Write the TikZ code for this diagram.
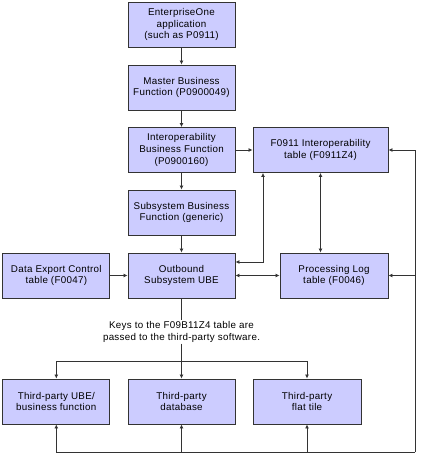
\documentclass[tikz,border=0pt]{standalone}
\usepackage{fontspec}
\setmainfont{Liberation Sans}[LetterSpace=3]
\usetikzlibrary{arrows.meta,calc}
\definecolor{boxfill}{RGB}{204,204,255}
\definecolor{linegray}{RGB}{51,51,51}
\tikzset{
  box/.style={draw=linegray, line width=0.9pt, fill=boxfill, minimum width=107pt, minimum height=45pt, inner sep=1pt, align=center, font=\fontsize{9.8}{11.7}\selectfont},
  wbox/.style={box, minimum width=108pt},
  xbox/.style={box, minimum width=135pt},
  conn/.style={draw=linegray, line width=0.9pt, -{Latex[length=4pt,width=4pt]}},
  bconn/.style={draw=linegray, line width=0.9pt, {Latex[length=4pt,width=4pt]}-{Latex[length=4pt,width=4pt]}},
  plain/.style={draw=linegray, line width=0.9pt},
  lbl/.style={fill=white, inner sep=1pt, align=center, font=\fontsize{9.8}{11.7}\selectfont}
}
\begin{document}
\begin{tikzpicture}[x=1pt,y=-1pt]
\useasboundingbox (0,0) rectangle (441,463);
\node[box] (e1) at (181.5,24.5) {EnterpriseOne\\application\\(such as P0911)};
\node[box] (mbf) at (181.5,87.5) {Master Business\\Function (P0900049)};
\node[box] (ibf) at (181.5,150) {Interoperability\\Business Function\\(P0900160)};
\node[xbox] (f0911) at (320.5,150) {F0911 Interoperability\\table (F0911Z4)};
\node[box] (sbf) at (181.5,212.5) {Subsystem Business\\Function (generic)};
\node[box] (dec) at (56.3,275.5) {Data Export Control\\table (F0047)};
\node[box] (obu) at (181.5,275.5) {Outbound\\Subsystem UBE};
\node[wbox] (plog) at (334,275.5) {Processing Log\\table (F0046)};
\node[box] (t1) at (56.3,401.5) {Third-party UBE/\\business function};
\node[box] (t2) at (181.5,401.5) {Third-party\\database};
\node[wbox] (t3) at (307,401.5) {Third-party\\flat tile};
\node[lbl] (keys) at (181.5,332) {Keys to the F09B11Z4 table are\\passed to the third-party software.};
\coordinate (split) at (181.5,361);
\coordinate (bot) at (415,452);
\coordinate (obuR) at ([yshift=13.5pt]obu.east);
\coordinate (fB) at ([xshift=-57.5pt]f0911.south);

\draw[conn] (e1) -- (mbf);
\draw[conn] (mbf) -- (ibf);
\draw[conn] (ibf) -- (sbf);
\draw[conn] (sbf) -- (obu);
\draw[conn] (ibf) -- (f0911);
\draw[conn] (dec) -- (obu);
\draw[bconn] (obu) -- (plog);
\draw[bconn] (obuR) -| (fB);
\draw[bconn] (f0911.south) -- (f0911.south |- plog.north);
\draw[plain] (obu.south) -- (keys.north);
\draw[plain] (keys.south) -- (split);
\draw[conn] (split) -| (t1.north);
\draw[conn] (split) -- (t2.north);
\draw[conn] (split) -| (t3.north);
\draw[conn] (bot) |- (f0911.east);
\draw[conn] (bot |- plog.east) -- (plog.east);
\draw[conn] (bot) -| (t1.south);
\draw[conn] (t2.south |- bot) -- (t2.south);
\draw[conn] (t3.south |- bot) -- (t3.south);
\end{tikzpicture}
\end{document}
